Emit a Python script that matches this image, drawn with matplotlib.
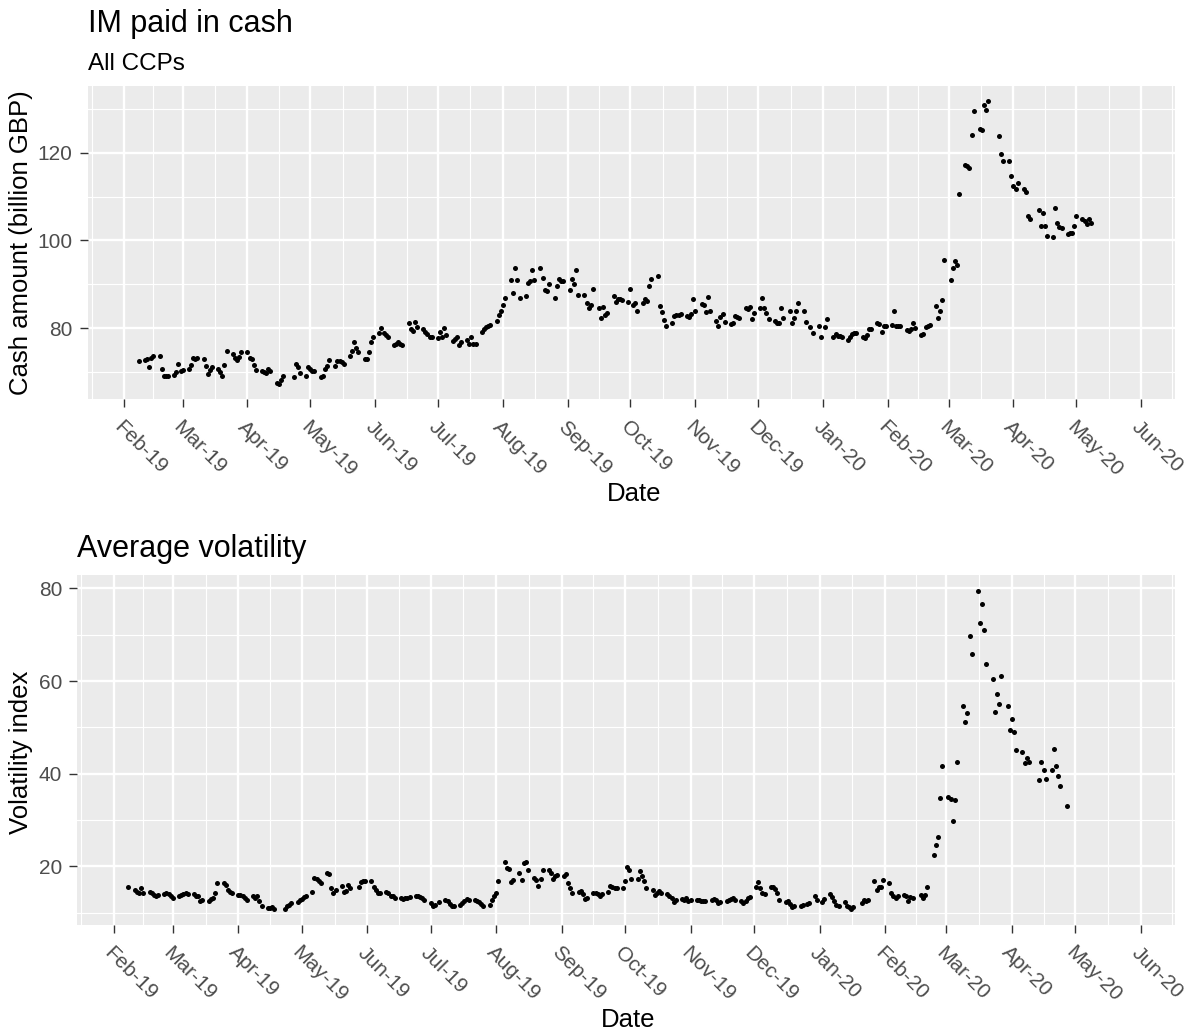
import numpy as np
import pandas as pd
import matplotlib
matplotlib.use("Agg")
import matplotlib.pyplot as plt
import matplotlib.dates as mdates

nan = np.nan
plt.rcParams['font.family'] = ['Liberation Sans', 'DejaVu Sans']

# ---------------- data (one row = one business week, Mon..Fri) ----------------
im_first_monday = "2019-02-04"
im_weeks = [
    [nan, nan, nan, nan, 72.5],
    [72.8, 72.9, 71.1, 73.2, 73.7],
    [73.6, 70.6, 69.2, 69.2, 69.2],
    [69.4, 70.0, 71.9, 70.3, 70.5],
    [70.7, 71.6, 73.2, 73.0, 73.1],
    [73.0, 71.5, 69.6, 70.5, 71.1],
    [70.6, 70.0, 69.2, 71.7, 74.9],
    [74.1, 73.1, 72.8, 73.5, 74.5],
    [74.5, 73.1, 73.0, 71.6, 70.5],
    [70.3, 70.0, 69.8, 70.7, 70.2],
    [67.6, 67.3, 68.2, 69.2, nan],
    [nan, 68.8, 71.9, 71.1, 69.8],
    [69.2, 71.1, 70.6, 70.3, 70.3],
    [68.8, 69.1, 70.7, 71.5, 72.8],
    [71.5, 72.5, 72.5, 72.2, 71.9],
    [73.6, 74.9, 76.8, 75.5, 74.5],
    [73.0, 73.0, 74.5, 76.8, 78.1],
    [78.8, 80.0, 78.8, 78.4, 77.9],
    [76.2, 76.4, 76.8, 76.4, 76.2],
    [81.3, 79.9, 79.4, 81.4, 80.2],
    [79.8, 79.2, 78.6, 78.1, 77.9],
    [77.7, 79.2, 78.1, 80.0, 78.5],
    [77.1, 77.5, 78.1, 76.2, 76.8],
    [77.4, 76.4, 77.9, 76.4, 76.4],
    [79.2, 79.8, 80.2, 80.4, 80.8],
    [81.7, 83.0, 83.9, 85.2, 86.9],
    [90.9, 88.1, 93.7, 91.1, 86.8],
    [87.3, 90.2, 90.7, 93.3, 90.9],
    [93.7, 91.5, 88.8, 88.4, 90.0],
    [86.8, 89.6, 91.2, 90.7, 90.7],
    [88.8, 91.2, 90.0, 93.3, 87.5],
    [87.5, 85.8, 84.7, 85.4, 89.0],
    [84.5, 82.4, 84.9, 83.0, 83.4],
    [87.3, 86.0, 86.6, 86.6, 86.4],
    [86.0, 89.0, 85.4, 85.7, 83.9],
    [85.8, 86.7, 86.2, 89.6, 91.2],
    [91.8, 85.0, 83.6, 81.8, 80.5],
    [81.1, 82.8, 83.0, 83.0, 83.2],
    [82.8, 82.6, 83.2, 86.6, 83.9],
    [85.6, 85.4, 83.6, 87.2, 83.9],
    [81.7, 80.4, 82.6, 83.2, 81.4],
    [80.9, 81.3, 82.8, 82.6, 82.4],
    [84.7, 84.3, 84.9, 82.2, 83.5],
    [84.5, 86.9, 84.7, 83.4, 82.2],
    [81.7, 81.3, 81.1, 84.5, 82.4],
    [83.9, 81.3, 82.3, 83.9, 85.8],
    [83.9, 81.4, nan, 80.2, 79.0],
    [80.4, 77.9, nan, 80.2, 82.0],
    [78.1, 78.6, 78.3, 78.3, 78.1],
    [77.4, 77.9, 78.6, 78.9, 79.0],
    [78.1, 77.7, 78.5, 79.8, 79.8],
    [81.3, 80.9, 79.2, 80.4, 80.4],
    [80.7, 83.9, 80.5, 80.4, 80.4],
    [79.6, 79.4, 79.8, 81.3, 80.0],
    [78.4, 78.6, 80.2, 80.4, 80.7],
    [85.0, 82.3, 83.9, 86.4, 95.6],
    [90.9, 93.7, 95.4, 94.5, 110.5],
    [117.3, 116.9, 116.4, 124.1, 129.5],
    [125.5, 125.1, 130.9, 129.8, 131.7],
    [nan, nan, 123.9, 119.7, 118.1],
    [118.1, 114.8, 112.4, 111.8, 113.0],
    [111.8, 111.1, 105.6, 105.0, nan],
    [106.9, 103.4, 106.2, 103.4, 101.0],
    [100.7, 107.3, 104.0, 103.0, 102.9],
    [101.5, 101.7, 101.8, 103.4, 105.6],
    [104.8, 104.4, 103.8, 105.0, 103.9],
]

vol_first_monday = "2019-02-04"
vol_weeks = [
    [nan, nan, nan, nan, 15.5],
    [14.9, 14.5, 14.3, 15.3, 14.2],
    [14.5, 14.2, 13.8, 13.5, 13.8],
    [14.0, 14.3, 14.0, 13.5, 13.1],
    [13.5, 13.8, 14.0, 14.2, 14.1],
    [14.0, 13.5, 13.6, 12.4, 12.75],
    [12.5, 12.9, 13.1, 14.2, 16.4],
    [16.3, 16.0, 14.9, 14.5, 14.2],
    [13.8, 13.8, 13.5, 13.1, 12.75],
    [13.5, 13.1, 13.5, 12.4, 11.3],
    [11.0, 11.0, 11.1, 10.75, nan],
    [nan, 10.75, 11.3, 11.7, 12.0],
    [12.2, 12.75, 12.9, 13.3, 13.5],
    [14.5, 17.4, 17.2, 16.7, 16.4],
    [18.5, 18.3, 15.3, 14.2, 14.9],
    [15.7, 14.5, 14.7, 16.0, 15.3],
    [nan, 15.6, 16.5, 16.7, 16.9],
    [16.7, 15.6, 14.9, 14.3, 14.2],
    [14.5, 14.2, 13.6, 13.5, 13.1],
    [13.1, 12.9, 13.1, 13.1, 13.3],
    [13.5, 13.6, 13.4, 13.1, 12.6],
    [12.0, 11.3, 11.7, nan, 12.2],
    [12.6, 12.4, 11.9, 11.3, 11.5],
    [11.7, 12.0, 12.4, 12.9, 12.6],
    [12.6, 12.4, 12.2, 11.9, 11.5],
    [11.7, 12.75, 13.5, 14.2, 16.8],
    [21.0, 19.7, 19.4, 16.5, 17.1],
    [18.6, 17.1, 20.8, 21.0, 19.2],
    [17.4, 17.1, 15.8, 17.2, 19.2],
    [19.2, 18.5, 17.2, 17.9, 18.0],
    [17.8, 18.3, 16.3, 15.3, 14.3],
    [14.5, 14.7, 14.0, 12.9, 13.2],
    [14.3, 14.2, 14.0, 13.6, 14.0],
    [14.5, 15.8, 15.6, 15.3, 15.2],
    [15.3, 16.7, 19.9, 19.2, 17.2],
    [17.2, 18.9, 17.8, 16.7, 15.3],
    [14.9, 13.8, 14.2, 14.7, 14.3],
    [14.0, 13.6, 13.1, 12.2, 12.6],
    [12.9, 12.75, 13.1, 12.4, 12.75],
    [12.75, 12.6, 12.4, 12.4, 12.5],
    [12.75, 12.9, 12.6, 12.0, 12.3],
    [12.4, 12.6, 12.9, 13.1, 12.8],
    [12.4, 12.0, 12.4, 13.1, 13.3],
    [15.6, 16.5, 15.3, 14.2, 14.0],
    [15.5, 15.5, 15.0, 14.3, 12.6],
    [12.2, 12.4, 11.9, 11.2, 11.5],
    [11.5, 11.6, nan, 11.8, 12.0],
    [13.6, 12.6, nan, 12.2, 12.9],
    [14.0, 13.3, 12.4, 11.7, 11.5],
    [12.2, 11.5, 11.2, 10.7, 11.2],
    [nan, 12.0, 12.6, 12.4, 12.8],
    [16.9, 14.9, 15.5, 15.6, 17.1],
    [16.3, 14.3, 13.6, 13.1, 13.5],
    [13.8, 13.5, 12.4, 13.3, 13.1],
    [nan, 13.8, 13.1, 13.8, 15.5],
    [22.5, 24.6, 26.4, 34.7, 41.7],
    [35.0, 34.5, 29.8, 34.3, 42.5],
    [54.5, 51.2, 53.0, 69.7, 65.8],
    [79.5, 72.6, 76.6, 71.0, 63.7],
    [60.4, 53.4, 57.2, 55.0, 61.0],
    [54.6, 49.4, 51.7, 48.9, 45.1],
    [44.6, 42.2, 43.3, 42.5, nan],
    [nan, 38.6, 42.5, 40.7, 38.9],
    [40.7, 45.3, 41.7, 39.4, 37.3],
    [33.1, nan, nan, nan, nan],
]

month_ticks = ["2019-02-01", "2019-03-01", "2019-04-01", "2019-05-01", "2019-06-01",
               "2019-07-01", "2019-08-01", "2019-09-01", "2019-10-01", "2019-11-01",
               "2019-12-01", "2020-01-01", "2020-02-01", "2020-03-01", "2020-04-01",
               "2020-05-01", "2020-06-01"]
month_labels = ["Feb-19", "Mar-19", "Apr-19", "May-19", "Jun-19", "Jul-19", "Aug-19",
                "Sep-19", "Oct-19", "Nov-19", "Dec-19", "Jan-20", "Feb-20", "Mar-20",
                "Apr-20", "May-20", "Jun-20"]
im_yticks = [80, 100, 120]
im_yminor = [70, 90, 110, 130]
vol_yticks = [20, 40, 60, 80]
vol_yminor = [10, 30, 50, 70]


def expand_weeks(first_monday, weeks):
    start = pd.Timestamp(first_monday)
    dates, vals = [], []
    for k, row in enumerate(weeks):
        for j, v in enumerate(row):
            if not np.isnan(v):
                dates.append(start + pd.Timedelta(days=7 * k + j))
                vals.append(v)
    return mdates.date2num(pd.to_datetime(dates)), np.array(vals)


im_x, im_y = expand_weeks(im_first_monday, im_weeks)
vol_x, vol_y = expand_weeks(vol_first_monday, vol_weeks)

W, H = 1193, 1036
fig = plt.figure(figsize=(W / 100, H / 100), dpi=100)


def rect(l, t, r, b):
    return [l / W, 1 - b / H, (r - l) / W, (b - t) / H]


ax1 = fig.add_axes(rect(88, 86, 1175, 399.3))
ax2 = fig.add_axes(rect(77.3, 575, 1175, 925))

origin = pd.Timestamp("2019-02-01")
xmin = mdates.date2num(origin - pd.Timedelta(days=17.2))
xmax = mdates.date2num(origin + pd.Timedelta(days=502.2))
major = mdates.date2num(pd.to_datetime(month_ticks))
all_months = mdates.date2num(pd.date_range("2019-01-01", "2020-07-01", freq="MS"))
minor = (all_months[:-1] + all_months[1:]) / 2

TXT = "#4D4D4D"


def style(ax, yticks, yminor, ylim):
    ax.set_facecolor("#EBEBEB")
    for s in ax.spines.values():
        s.set_visible(False)
    ax.set_xlim(xmin, xmax)
    ax.set_ylim(*ylim)
    ax.set_xticks(major)
    ax.set_xticks(minor, minor=True)
    ax.set_yticks(yticks)
    ax.set_yticks(yminor, minor=True)
    ax.set_yticklabels([str(v) for v in yticks])
    ax.set_xticklabels(month_labels, rotation=-45, ha="left", va="top",
                       rotation_mode="anchor")
    ax.grid(which="major", color="white", linewidth=1.7)
    ax.grid(which="minor", color="white", linewidth=0.85)
    ax.set_axisbelow(True)
    ax.tick_params(which="major", length=6, width=1.0, color="#333333",
                   labelsize=15, labelcolor=TXT, pad=5)
    ax.tick_params(axis="x", which="major", pad=7)
    ax.tick_params(which="minor", length=0)


ax1.scatter(im_x, im_y, s=13, c="black", linewidths=0, zorder=3)
ax2.scatter(vol_x, vol_y, s=13, c="black", linewidths=0, zorder=3)
style(ax1, im_yticks, im_yminor, (63.8, 135.2))
style(ax2, vol_yticks, vol_yminor, (7.3, 82.9))


def ftext(x, y, s, **kw):
    fig.text(x / W, 1 - y / H, s, **kw)


ftext(88, 31.7, "IM paid in cash", fontsize=22, va="baseline", ha="left", color="black")
ftext(88, 70, "All CCPs", fontsize=17.5, va="baseline", ha="left", color="black")
ftext(21, 242.6, "Cash amount (billion GBP)", fontsize=18.5, rotation=90,
      va="center", ha="center", color="black")
ftext(634, 494, "Date", fontsize=18.5, va="center", ha="center", color="black")

ftext(77.3, 557.3, "Average volatility", fontsize=22, va="baseline", ha="left", color="black")
ftext(21, 752, "Volatility index", fontsize=18.5, rotation=90,
      va="center", ha="center", color="black")
ftext(628, 1020, "Date", fontsize=18.5, va="center", ha="center", color="black")

fig.savefig("out.png", dpi=100, facecolor="white")
